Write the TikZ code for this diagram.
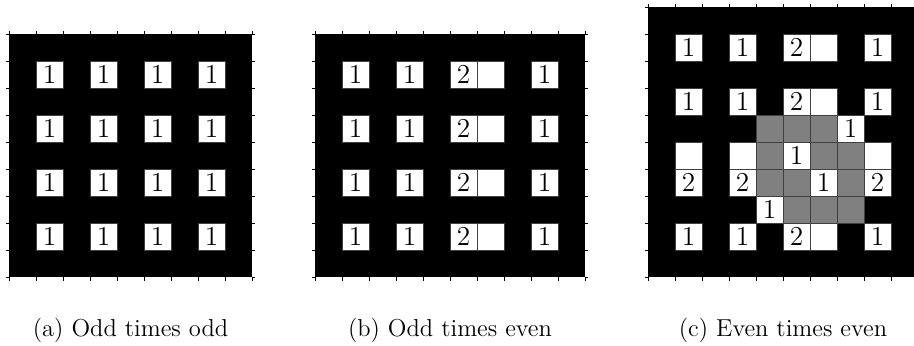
\documentclass[tikz,border=0pt]{standalone}
\usepackage{fontspec}
\usepackage{tikz}
\usetikzlibrary{positioning}

\tikzset{
  cell/.style={draw=black!75, line width=0.5pt, fill=white, minimum size=0.5cm,
    inner sep=0pt, outer sep=0pt, font=\fontsize{14.4}{17}\selectfont},
  graycell/.style={cell, fill=black!50},
  tickmark/.style={line width=0.4pt},
  caption/.style={anchor=base, font=\fontsize{12.9}{15}\selectfont}
}

% black board with ticks on all four sides (#1 columns, #2 rows)
\newcommand{\boardframe}[2]{%
  \fill[black] (0,0) rectangle (#1,#2);
  \foreach \k in {0,...,#1} {
    \draw[tickmark] (\k,0) -- ++(0,-0.12);
    \draw[tickmark] (\k,#2) -- ++(0,0.12);
  }
  \foreach \k in {0,...,#2} {
    \draw[tickmark] (0,\k) -- ++(-0.12,0);
    \draw[tickmark] (#1,\k) -- ++(0.12,0);
  }
}

\begin{document}
\begin{tikzpicture}
  \useasboundingbox (0,0) rectangle (16.926,6.407);
  % (a) odd times odd
  \begin{scope}[shift={(0.167,1.27)}, x=0.5cm, y=0.5cm]
    \boardframe{9}{9}
    \foreach \c in {1,3,5,7}
      \foreach \r in {1,3,5,7}
        \node[cell] (a-\c-\r) at (\c+0.5,\r+0.5) {1};
  \end{scope}
  % (b) odd times even
  \begin{scope}[shift={(5.833,1.27)}, x=0.5cm, y=0.5cm]
    \boardframe{10}{9}
    \foreach \r in {1,3,5,7} {
      \node[cell] (b-1-\r) at (1.5,\r+0.5) {1};
      \node[cell] (b-3-\r) at (3.5,\r+0.5) {1};
      \node[cell] (b-5-\r) at (5.5,\r+0.5) {2};
      \node[cell] (b-6-\r) at (6.5,\r+0.5) {};
      \node[cell] (b-8-\r) at (8.5,\r+0.5) {1};
    }
  \end{scope}
  % (c) even times even
  \begin{scope}[shift={(12,1.27)}, x=0.5cm, y=0.5cm]
    \boardframe{10}{10}
    \foreach \r in {1,6,8} {
      \node[cell] (c-1-\r) at (1.5,\r+0.5) {1};
      \node[cell] (c-3-\r) at (3.5,\r+0.5) {1};
      \node[cell] (c-5-\r) at (5.5,\r+0.5) {2};
      \node[cell] (c-6-\r) at (6.5,\r+0.5) {};
      \node[cell] (c-8-\r) at (8.5,\r+0.5) {1};
    }
    % row 5
    \node[graycell] (c-4-5) at (4.5,5.5) {};
    \node[graycell] (c-5-5) at (5.5,5.5) {};
    \node[graycell] (c-6-5) at (6.5,5.5) {};
    \node[cell] (c-7-5) at (7.5,5.5) {1};
    % row 4
    \node[cell] (c-1-4) at (1.5,4.5) {};
    \node[cell] (c-3-4) at (3.5,4.5) {};
    \node[graycell] (c-4-4) at (4.5,4.5) {};
    \node[cell] (c-5-4) at (5.5,4.5) {1};
    \node[graycell] (c-6-4) at (6.5,4.5) {};
    \node[graycell] (c-7-4) at (7.5,4.5) {};
    \node[cell] (c-8-4) at (8.5,4.5) {};
    % row 3
    \node[cell] (c-1-3) at (1.5,3.5) {2};
    \node[cell] (c-3-3) at (3.5,3.5) {2};
    \node[graycell] (c-4-3) at (4.5,3.5) {};
    \node[graycell] (c-5-3) at (5.5,3.5) {};
    \node[cell] (c-6-3) at (6.5,3.5) {1};
    \node[graycell] (c-7-3) at (7.5,3.5) {};
    \node[cell] (c-8-3) at (8.5,3.5) {2};
    % row 2
    \node[cell] (c-4-2) at (4.5,2.5) {1};
    \node[graycell] (c-5-2) at (5.5,2.5) {};
    \node[graycell] (c-6-2) at (6.5,2.5) {};
    \node[graycell] (c-7-2) at (7.5,2.5) {};
  \end{scope}
  % captions
  \node[caption] (cap-a) at (2.417,0.167) {(a) Odd times odd};
  \node[caption] (cap-b) at (8.333,0.167) {(b) Odd times even};
  \node[caption] (cap-c) at (14.5,0.167) {(c) Even times even};
\end{tikzpicture}
\end{document}
